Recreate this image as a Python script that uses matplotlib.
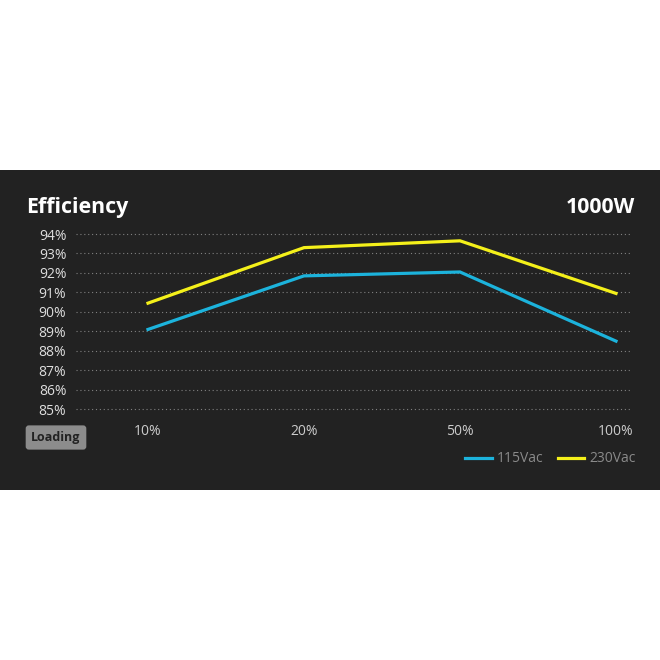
import matplotlib
matplotlib.use("Agg")
from matplotlib import pyplot as plt
from matplotlib.patches import Rectangle

# data
loads = ["10%", "20%", "50%", "100%"]
eff_115 = [89.1, 91.85, 92.05, 88.5]
eff_230 = [90.45, 93.3, 93.65, 90.95]
y_ticks = [85, 86, 87, 88, 89, 90, 91, 92, 93, 94]

BG = "#222222"
BLUE = "#1cb3dc"
YELLOW = "#f4f01a"

plt.rcParams["font.family"] = ["Open Sans", "DejaVu Sans"]

W = H = 660
fig = plt.figure(figsize=(6.6, 6.6), dpi=100)
fig.patch.set_facecolor("white")

def fx(px):
    return px / W

def fy(py):
    return 1 - py / H

# dark panel, behind the axes
fig.patches.append(Rectangle((0, fy(490)), 1, fy(170) - fy(490),
                             transform=fig.transFigure, fc=BG, ec="none", zorder=-5))

# 94% sits at y=234 px, 85% at y=409.3 px; pad the limits a bit so both gridlines show
ppu = (409.3 - 234) / 9
ax = fig.add_axes([fx(76), fy(409.3 + ppu * 0.2), fx(632) - fx(76), (ppu * 9.4) / H])
ax.set_zorder(1)
ax.set_facecolor("none")
x = list(range(len(loads)))
ax.plot(x, eff_115, color=BLUE, lw=2.3, label="115Vac", solid_joinstyle="miter", clip_on=False, zorder=3)
ax.plot(x, eff_230, color=YELLOW, lw=2.3, label="230Vac", solid_joinstyle="miter", clip_on=False, zorder=3)

ax.set_xlim(-72 / 156, 3 + 16 / 156)
ax.set_ylim(84.8, 94.2)
ax.set_yticks(y_ticks)
ax.set_yticklabels([f"{v}%" for v in y_ticks])
ax.set_xticks(x)
ax.set_xticklabels(loads)
ax.tick_params(axis="y", length=0, pad=7, labelsize=10, labelcolor="#dddddd")
ax.tick_params(axis="x", length=0, pad=8, labelsize=10, labelcolor="#cccccc")
ax.yaxis.grid(True, color="#808080", linestyle=(0, (1, 2.5)), lw=0.8)
ax.xaxis.grid(False)
for s in ax.spines.values():
    s.set_visible(False)

fig.text(fx(26), fy(213), "Efficiency", color="white", fontsize=15.4,
         fontweight="bold", ha="left", va="baseline")
fig.text(fx(635), fy(213), "1000W", color="white", fontsize=15.4,
         fontweight="bold", ha="right", va="baseline")

fig.text(fx(56), fy(437.5), "Loading", color="#222222", fontsize=9, fontweight="bold",
         ha="center", va="center",
         bbox=dict(boxstyle="round,pad=0.45,rounding_size=0.25", fc="#8c8c8c", ec="none"))

leg = fig.legend(loc="center right", bbox_to_anchor=(fx(636), fy(459)), ncol=2,
                 frameon=False, fontsize=10, handlelength=1.9, handletextpad=0.4,
                 columnspacing=1.0, borderpad=0, borderaxespad=0)
for t in leg.get_texts():
    t.set_color("#8a8a8a")

fig.savefig("out.png", dpi=100, facecolor="white")
